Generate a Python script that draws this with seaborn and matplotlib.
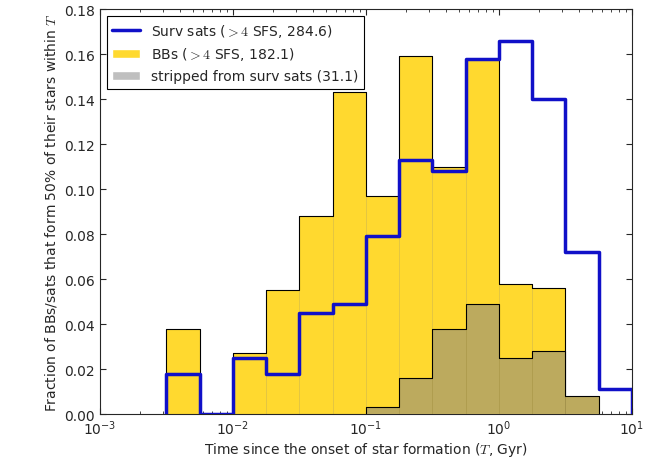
"""
Histogramme du temps de formation de 50% des étoiles (BBs vs satellites).
"""

import numpy as np
import matplotlib
matplotlib.use("Agg")
import matplotlib.pyplot as plt
import seaborn as sns
from matplotlib.lines import Line2D
from matplotlib.patches import Patch

# bords des bins en log10(T / Gyr)
bins_log = [-2.5, -2.25, -2.0, -1.75, -1.5, -1.25, -1.0, -0.75,
            -0.5, -0.25, 0.0, 0.25, 0.5, 0.75, 1.0]

bbs = [0.038, 0.0, 0.027, 0.055, 0.088, 0.143, 0.097, 0.159,
       0.110, 0.158, 0.058, 0.056, 0.0, 0.0]
surv_sats = [0.018, 0.0, 0.025, 0.018, 0.045, 0.049, 0.079, 0.113,
             0.108, 0.158, 0.166, 0.140, 0.072, 0.011]
stripped = [0.0, 0.0, 0.0, 0.0, 0.0, 0.0, 0.003, 0.016,
            0.038, 0.049, 0.025, 0.028, 0.008, 0.0]

labels = [r"Surv sats (${>}4$ SFS, 284.6)",
          r"BBs (${>}4$ SFS, 182.1)",
          "stripped from surv sats (31.1)"]

JAUNE = "#ffd92f"
OLIVE = "#bcaa5e"
BLEU = "#1010c8"

sns.set_style("ticks", {"xtick.direction": "in", "ytick.direction": "in",
                        "xtick.top": True, "ytick.right": True})
plt.rcParams["font.family"] = ["DejaVu Sans"]
plt.rcParams["mathtext.fontset"] = "cm"

centres = 10 ** ((np.array(bins_log[:-1]) + np.array(bins_log[1:])) / 2)


def fermer(ax):
    """Ferme le dernier contour 'step' jusqu'à zéro aux deux extrémités."""
    ligne = ax.lines[-1]
    x, y = ligne.get_data()
    ligne.set_data(np.r_[x[0], x, x[-1]], np.r_[0, y, 0])


fig = plt.figure(figsize=(6.64, 4.6), dpi=100)
ax = fig.add_axes([0.1506, 0.0978, 0.8012, 0.8804])
ax.set_xscale("log")

# BBs : barres jaunes + contour noir
sns.histplot(x=centres, weights=bbs, bins=bins_log, element="bars",
             color=JAUNE, alpha=1.0, edgecolor="#d8bc3a", linewidth=0.4,
             ax=ax, zorder=1)
sns.histplot(x=centres[:12], weights=bbs[:12], bins=bins_log[:13],
             element="step", fill=False, color="black", linewidth=0.8,
             ax=ax, zorder=2)
fermer(ax)

# stripped : olive
sns.histplot(x=centres[6:13], weights=stripped[6:13], bins=bins_log[6:14],
             element="bars", color=OLIVE, alpha=1.0, edgecolor="#a8964c",
             linewidth=0.4, ax=ax, zorder=3)
sns.histplot(x=centres[6:13], weights=stripped[6:13], bins=bins_log[6:14],
             element="step", fill=False, color="black", linewidth=0.8,
             ax=ax, zorder=4)
fermer(ax)

# satellites survivants : ligne bleue
sns.histplot(x=centres, weights=surv_sats, bins=bins_log, element="step",
             fill=False, color=BLEU, linewidth=2.5, ax=ax, zorder=5)
fermer(ax)

ax.set_xlim(1e-3, 10)
ax.set_ylim(0, 0.18)
ax.set_yticks(np.arange(0, 0.181, 0.02))
ax.set_yticklabels([f"{v:.2f}" for v in np.arange(0, 0.181, 0.02)])
ax.tick_params(labelsize=10, length=4)
ax.tick_params(which="minor", length=2)
ax.set_xlabel(r"Time since the onset of star formation ($T$, Gyr)",
              fontsize=10, labelpad=2)
ax.set_ylabel(r"Fraction of BBs/sats that form 50% of their stars within $T$",
              fontsize=10)

handles = [Line2D([], [], color=BLEU, lw=2.5),
           Patch(facecolor=JAUNE),
           Patch(facecolor="#bfbfbf")]
leg = ax.legend(handles, labels, loc="upper left", fontsize=10,
                fancybox=False, framealpha=1, edgecolor="black",
                borderaxespad=0.5)
leg.get_frame().set_linewidth(0.8)

fig.savefig("out.png", dpi=100)
